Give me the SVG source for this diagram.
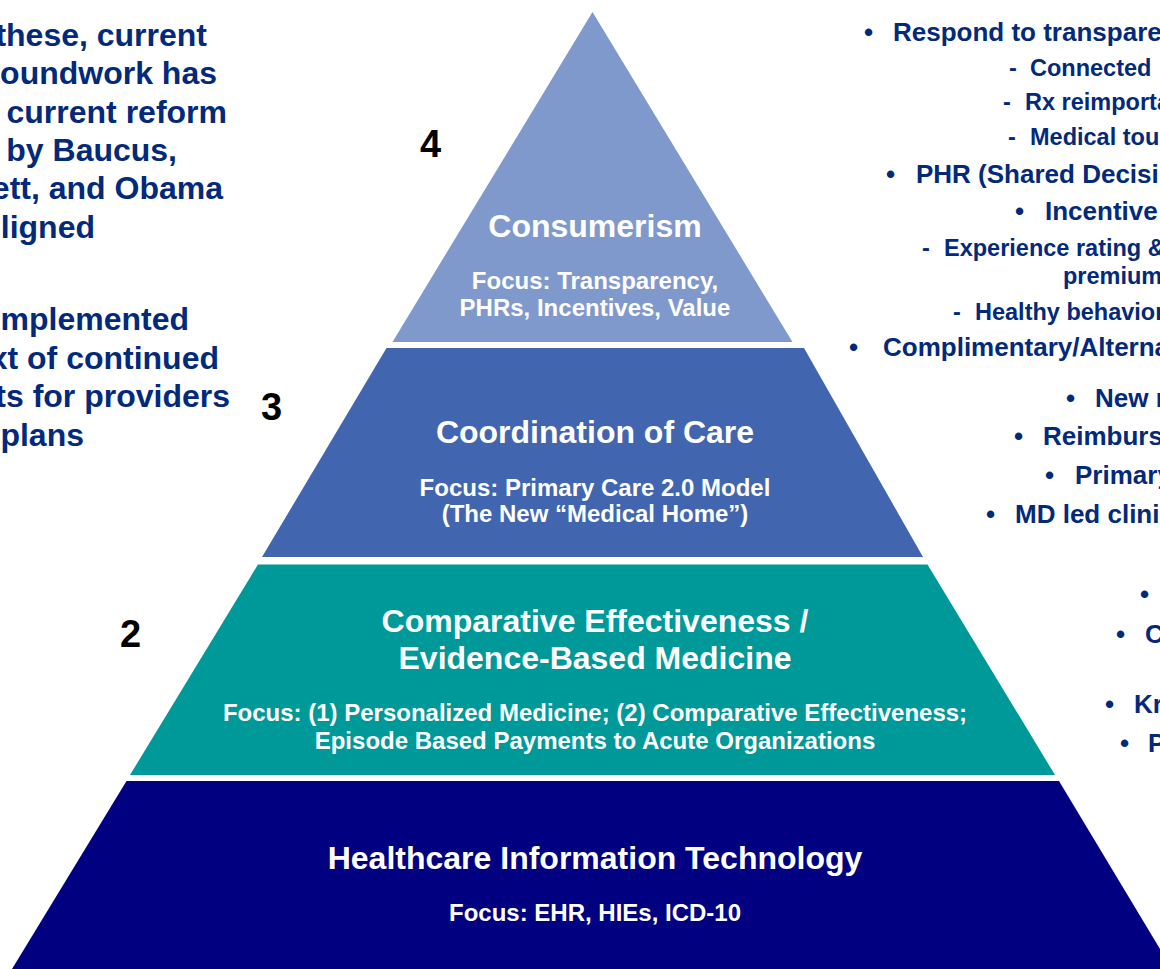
<svg xmlns="http://www.w3.org/2000/svg" width="1160" height="969" viewBox="0 0 1160 969">
<style>
.t{font-family:"Liberation Sans",Arial,sans-serif;font-weight:bold;}
.w{fill:#ffffff;text-anchor:middle;}
.title{font-size:32px;}
.focus{font-size:24px;}
.num{font-size:38px;fill:#000000;}
.left{font-size:32px;fill:#03297A;text-anchor:end;}
.right{font-size:26px;fill:#03297A;}
.sub{font-size:23.5px;fill:#03297A;}
</style>
<rect width="1160" height="969" fill="#ffffff"/>

<g id="tier4">
<polygon points="592.5,12 792.5,342 392.5,342" fill="#7F99CC"/>
<text class="t w title" x="595" y="237">Consumerism</text>
<text class="t w focus" x="595" y="289">Focus: Transparency,</text>
<text class="t w focus" x="595" y="316">PHRs, Incentives, Value</text>
</g>

<g id="tier3">
<polygon points="386.5,348 804,348 923,557 262,557" fill="#4166AF"/>
<text class="t w title" x="595" y="443">Coordination of Care</text>
<text class="t w focus" x="595" y="496">Focus: Primary Care 2.0 Model</text>
<text class="t w focus" x="595" y="522">(The New “Medical Home”)</text>
</g>

<g id="tier2">
<polygon points="258,564.5 927.5,564.5 1055,775 130,775" fill="#009999"/>
<text class="t w title" x="595" y="632">Comparative Effectiveness /</text>
<text class="t w title" x="595" y="668.5">Evidence-Based Medicine</text>
<text class="t w focus" x="595" y="721">Focus: (1) Personalized Medicine; (2) Comparative Effectiveness;</text>
<text class="t w focus" x="595" y="748.5">Episode Based Payments to Acute Organizations</text>
</g>

<g id="tier1">
<polygon points="126.5,781 1059,781 1172,969 12,969" fill="#000080"/>
<text class="t w title" x="595" y="868.5">Healthcare Information Technology</text>
<text class="t w focus" x="595" y="921">Focus: EHR, HIEs, ICD-10</text>
</g>

<g id="numbers">
<text class="t num" x="420" y="157">4</text>
<text class="t num" x="261" y="420">3</text>
<text class="t num" x="120" y="647">2</text>
</g>

<g id="left-text">
<text class="t left" x="207" y="46">these, current</text>
<text class="t left" x="217" y="84">oundwork has</text>
<text class="t left" x="227" y="122.5">current reform</text>
<text class="t left" x="177" y="160.5">by Baucus,</text>
<text class="t left" x="223" y="199">ett, and Obama</text>
<text class="t left" x="95" y="237.5">ligned</text>
<text class="t left" x="189" y="330">mplemented</text>
<text class="t left" x="219" y="368.5">xt of continued</text>
<text class="t left" x="230" y="407">ts for providers</text>
<text class="t left" x="84" y="445.5">plans</text>
</g>

<g id="right-text">
<text class="t right" x="864" y="41">•</text>
<text class="t right" x="893" y="41">Respond to transpare</text>
<text class="t sub" x="1009" y="76">-</text>
<text class="t sub" x="1030" y="76">Connected</text>
<text class="t sub" x="1003" y="110">-</text>
<text class="t sub" x="1025" y="110">Rx reimporta</text>
<text class="t sub" x="1008" y="145">-</text>
<text class="t sub" x="1030" y="145">Medical tou</text>
<text class="t right" x="886" y="183">•</text>
<text class="t right" x="916" y="183">PHR (Shared Decisi</text>
<text class="t right" x="1015" y="220">•</text>
<text class="t right" x="1045" y="220">Incentive</text>
<text class="t sub" x="922" y="256">-</text>
<text class="t sub" x="944" y="256">Experience rating &amp;</text>
<text class="t sub" x="1063" y="284">premium</text>
<text class="t sub" x="953" y="320">-</text>
<text class="t sub" x="975" y="320">Healthy behavior</text>
<text class="t right" x="849" y="356">•</text>
<text class="t right" x="883" y="356">Complimentary/Alterna</text>
<text class="t right" x="1066" y="407">•</text>
<text class="t right" x="1095" y="407">New r</text>
<text class="t right" x="1014" y="445">•</text>
<text class="t right" x="1043" y="445">Reimburs</text>
<text class="t right" x="1045" y="484">•</text>
<text class="t right" x="1075" y="484">Primary</text>
<text class="t right" x="986" y="523">•</text>
<text class="t right" x="1015" y="523">MD led clini</text>
<text class="t right" x="1140" y="603">•</text>
<text class="t right" x="1116" y="643">•</text>
<text class="t right" x="1145" y="643">C</text>
<text class="t right" x="1105" y="713">•</text>
<text class="t right" x="1134" y="713">Kr</text>
<text class="t right" x="1120" y="752">•</text>
<text class="t right" x="1148" y="752">P</text>
</g>
</svg>
